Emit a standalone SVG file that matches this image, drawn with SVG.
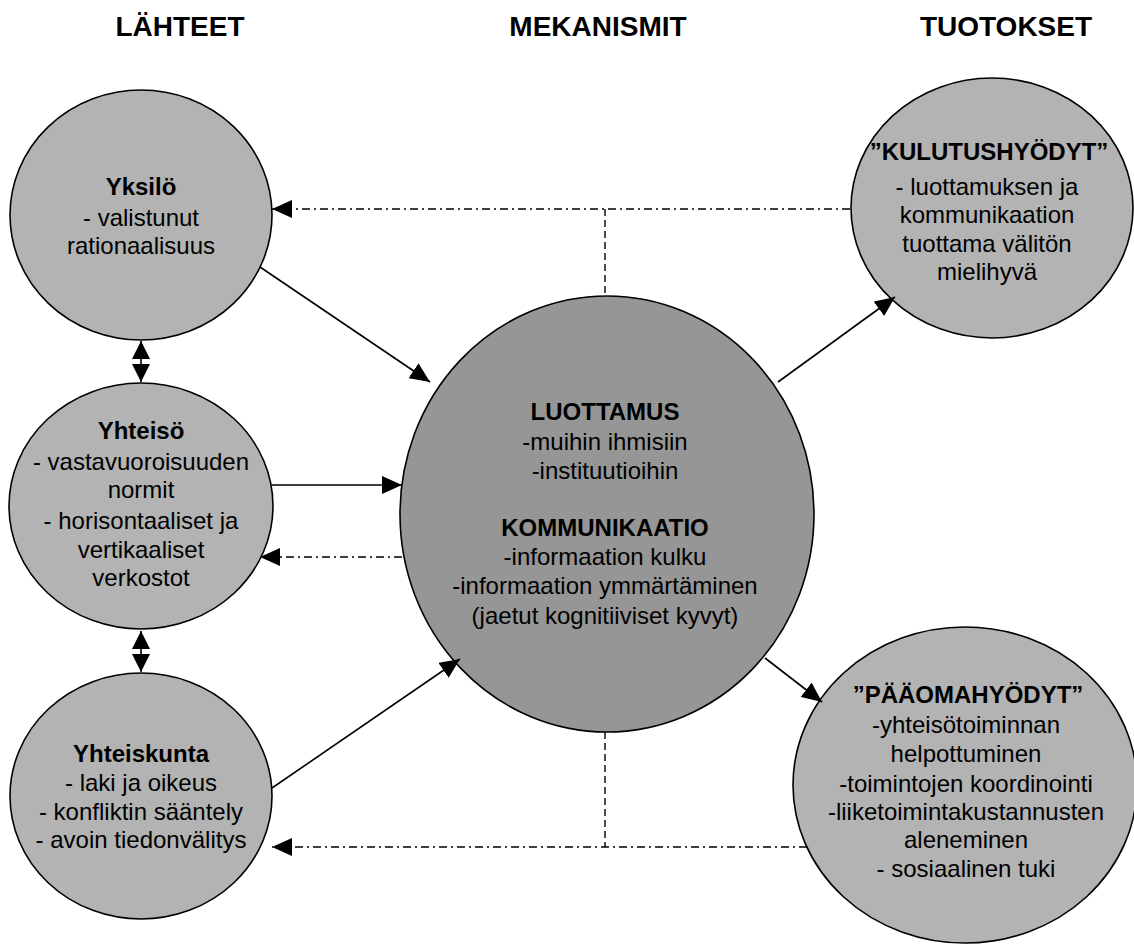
<svg xmlns="http://www.w3.org/2000/svg" width="1134" height="947" viewBox="0 0 1134 947">
<style>
  text { font-family: "Liberation Sans", Arial, sans-serif; fill: #000; text-anchor: middle; }
  .hdr { font-size: 28px; font-weight: bold; }
  .t { font-size: 24px; }
  .b { font-size: 24px; font-weight: bold; }
  .side { fill: #b3b3b3; stroke: #000; stroke-width: 1.6; }
  .mid { fill: #969696; stroke: #000; stroke-width: 1.6; }
  .solid { stroke: #000; stroke-width: 1.6; fill: none; }
  .dd { stroke: #000; stroke-width: 1.4; fill: none; stroke-dasharray: 8 4 2 4; }
  .dash { stroke: #000; stroke-width: 1.4; fill: none; stroke-dasharray: 7 4; }
</style>
<defs>
  <marker id="arr" viewBox="0 0 20 18" refX="20" refY="9" markerWidth="20" markerHeight="18" markerUnits="userSpaceOnUse" orient="auto-start-reverse">
    <path d="M0,0 L20,9 L0,18 Z" fill="#000"/>
  </marker>
  <marker id="arrs" viewBox="0 0 18 18" refX="18" refY="9" markerWidth="18" markerHeight="18" markerUnits="userSpaceOnUse" orient="auto-start-reverse">
    <path d="M0,0 L18,9 L0,18 Z" fill="#000"/>
  </marker>
</defs>
<rect width="1134" height="947" fill="#fff"/>

<g id="headers">
  <text class="hdr" x="180" y="36">LÄHTEET</text>
  <text class="hdr" x="598" y="36">MEKANISMIT</text>
  <text class="hdr" x="1006" y="36">TUOTOKSET</text>
</g>

<g id="yksilo">
  <ellipse class="side" cx="141" cy="215" rx="131" ry="125"/>
  <text class="b" x="141" y="195">Yksilö</text>
  <text class="t" x="141" y="226">- valistunut</text>
  <text class="t" x="141" y="254">rationaalisuus</text>
</g>

<g id="yhteiso">
  <ellipse class="side" cx="141" cy="506" rx="132" ry="123"/>
  <text class="b" x="141" y="439">Yhteisö</text>
  <text class="t" x="141" y="470">- vastavuoroisuuden</text>
  <text class="t" x="141" y="498">normit</text>
  <text class="t" x="141" y="529">- horisontaaliset ja</text>
  <text class="t" x="141" y="558">vertikaaliset</text>
  <text class="t" x="141" y="586">verkostot</text>
</g>

<g id="yhteiskunta">
  <ellipse class="side" cx="141" cy="796" rx="131" ry="123"/>
  <text class="b" x="141" y="762">Yhteiskunta</text>
  <text class="t" x="141" y="791">- laki ja oikeus</text>
  <text class="t" x="141" y="820">- konfliktin sääntely</text>
  <text class="t" x="141" y="848">- avoin tiedonvälitys</text>
</g>

<g id="mekanismit">
  <ellipse class="mid" cx="607" cy="514" rx="207" ry="218"/>
  <text class="b" x="605" y="420">LUOTTAMUS</text>
  <text class="t" x="605" y="450">-muihin ihmisiin</text>
  <text class="t" x="605" y="479">-instituutioihin</text>
  <text class="b" x="605" y="536">KOMMUNIKAATIO</text>
  <text class="t" x="605" y="565">-informaation kulku</text>
  <text class="t" x="605" y="594">-informaation ymmärtäminen</text>
  <text class="t" x="605" y="624">(jaetut kognitiiviset kyvyt)</text>
</g>

<g id="kulutushyodyt">
  <ellipse class="side" cx="992" cy="208" rx="141" ry="130"/>
  <text class="b" x="989" y="160">”KULUTUSHYÖDYT”</text>
  <text class="t" x="987" y="195">- luottamuksen ja</text>
  <text class="t" x="987" y="223">kommunikaation</text>
  <text class="t" x="987" y="252">tuottama välitön</text>
  <text class="t" x="987" y="280">mielihyvä</text>
</g>

<g id="paaomahyodyt">
  <ellipse class="side" cx="965" cy="785" rx="172" ry="158"/>
  <text class="b" x="968" y="703">”PÄÄOMAHYÖDYT”</text>
  <text class="t" x="966" y="733">-yhteisötoiminnan</text>
  <text class="t" x="966" y="762">helpottuminen</text>
  <text class="t" x="966" y="792">-toimintojen koordinointi</text>
  <text class="t" x="966" y="820">-liiketoimintakustannusten</text>
  <text class="t" x="966" y="848">aleneminen</text>
  <text class="t" x="966" y="877">- sosiaalinen tuki</text>
</g>

<g id="connectors">
  <line class="solid" x1="141" y1="341" x2="141" y2="382" marker-start="url(#arrs)" marker-end="url(#arrs)"/>
  <line class="solid" x1="141" y1="631" x2="141" y2="672" marker-start="url(#arrs)" marker-end="url(#arrs)"/>
  <line class="solid" x1="260" y1="267" x2="430" y2="382" marker-end="url(#arr)"/>
  <line class="solid" x1="272" y1="485" x2="402" y2="485" marker-end="url(#arr)"/>
  <line class="solid" x1="272" y1="788" x2="460" y2="659" marker-end="url(#arr)"/>
  <line class="solid" x1="778" y1="382" x2="895" y2="297" marker-end="url(#arr)"/>
  <line class="solid" x1="765" y1="658" x2="822" y2="702" marker-end="url(#arr)"/>
  <line class="dd" x1="402" y1="557" x2="260" y2="557" marker-end="url(#arr)"/>
  <line class="dd" x1="850" y1="209" x2="272" y2="209" marker-end="url(#arr)"/>
  <line class="dash" x1="605" y1="209" x2="605" y2="296"/>
  <line class="dd" x1="807" y1="847" x2="272" y2="847" marker-end="url(#arr)"/>
  <line class="dash" x1="605" y1="732" x2="605" y2="847"/>
</g>
</svg>
